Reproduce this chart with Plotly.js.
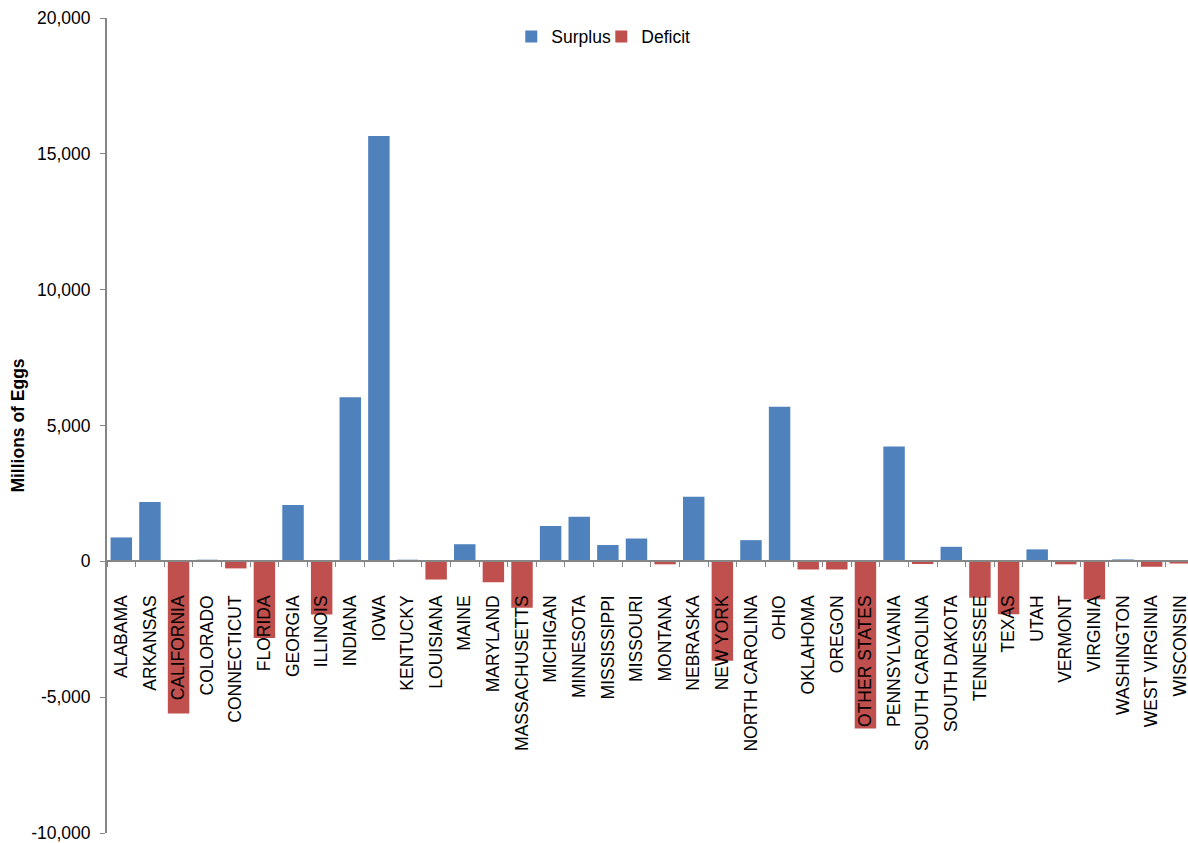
<!DOCTYPE html>
<html>
<head>
<meta charset="utf-8">
<script src="https://cdn.plot.ly/plotly-3.0.1.min.js"></script>
<style>
  html, body { margin: 0; padding: 0; background: #ffffff; }
  #chart { width: 1188px; height: 843px; }
</style>
</head>
<body>
<div id="chart"></div>
<script>
// Egg production balance by state (millions of eggs)
const states = [
  "ALABAMA", "ARKANSAS", "CALIFORNIA", "COLORADO", "CONNECTICUT", "FLORIDA",
  "GEORGIA", "ILLINOIS", "INDIANA", "IOWA", "KENTUCKY", "LOUISIANA", "MAINE",
  "MARYLAND", "MASSACHUSETTS", "MICHIGAN", "MINNESOTA", "MISSISSIPPI",
  "MISSOURI", "MONTANA", "NEBRASKA", "NEW YORK", "NORTH CAROLINA", "OHIO",
  "OKLAHOMA", "OREGON", "OTHER STATES", "PENNSYLVANIA", "SOUTH CAROLINA",
  "SOUTH DAKOTA", "TENNESSEE", "TEXAS", "UTAH", "VERMONT", "VIRGINIA",
  "WASHINGTON", "WEST VIRGINIA", "WISCONSIN"
];

// States producing more than they consume
const surplus = [
  880, 2180, null, 60, null, null,
  2070, null, 6040, 15660, 60, null, 630,
  null, null, 1300, 1640, 600,
  840, null, 2375, null, 780, 5690,
  null, null, null, 4230, null,
  535, null, null, 440, null, null,
  70, null, null
];

// States consuming more than they produce
const deficit = [
  null, null, -5600, null, -260, -2820,
  null, -1960, null, null, null, -670, null,
  -770, -1710, null, null, null,
  null, -110, null, -3660, null, null,
  -300, -300, -6150, null, -100,
  null, -1340, -1950, null, -110, -1400,
  null, -200, -80
];

const yTickVals = [-10000, -5000, 0, 5000, 10000, 15000, 20000];
const yTickText = ["-10,000", "-5,000", "0", "5,000", "10,000", "15,000", "20,000"];

const FONT = "Liberation Sans, Arial, sans-serif";
const AXIS_GREY = "#868686";

const traces = [
  {
    type: "bar",
    name: "Surplus",
    x: states,
    y: surplus,
    marker: { color: "#4F81BD", line: { width: 0 } },
    hoverinfo: "x+y"
  },
  {
    type: "bar",
    name: "Deficit",
    x: states,
    y: deficit,
    marker: { color: "#C0504D", line: { width: 0 } },
    hoverinfo: "x+y"
  }
];

const layout = {
  width: 1188,
  height: 843,
  margin: { l: 107, r: 0, t: 18, b: 10, pad: 0 },
  paper_bgcolor: "#ffffff",
  plot_bgcolor: "#ffffff",
  font: { family: FONT, size: 17.5, color: "#000000" },
  barmode: "relative",
  bargap: 0.25,
  showlegend: true,
  legend: {
    orientation: "h",
    x: 0.374,
    xanchor: "left",
    y: 0.977,
    yanchor: "middle",
    entrywidth: 45,
    entrywidthmode: "pixels",
    font: { family: FONT, size: 17.5, color: "#000000" },
    bgcolor: "rgba(0,0,0,0)",
    itemclick: false,
    itemdoubleclick: false
  },
  xaxis: {
    type: "category",
    range: [-0.5, 37.27],
    anchor: "free",
    position: 1 / 3,
    showline: true,
    linecolor: AXIS_GREY,
    linewidth: 2,
    showgrid: false,
    zeroline: false,
    ticks: "outside",
    tickson: "boundaries",
    ticklen: 5,
    tickwidth: 1,
    tickcolor: AXIS_GREY,
    tickangle: -90,
    ticklabelstandoff: 26,
    tickfont: { family: FONT, size: 17.5, color: "#000000" },
    automargin: false
  },
  yaxis: {
    range: [-10000, 20000],
    tickvals: yTickVals,
    ticktext: yTickText,
    showline: true,
    linecolor: AXIS_GREY,
    linewidth: 2,
    showgrid: false,
    zeroline: false,
    ticks: "outside",
    ticklen: 5,
    tickwidth: 1,
    tickcolor: AXIS_GREY,
    ticklabelstandoff: 6,
    ticklabeloverflow: "allow",
    tickfont: { family: FONT, size: 17.5, color: "#000000" },
    automargin: false,
    title: {
      text: "<b>Millions of Eggs</b>",
      font: { family: FONT, size: 17.5, color: "#000000" },
      standoff: 2
    }
  }
};

Plotly.newPlot("chart", traces, layout, { staticPlot: true, displayModeBar: false });
</script>
</body>
</html>
